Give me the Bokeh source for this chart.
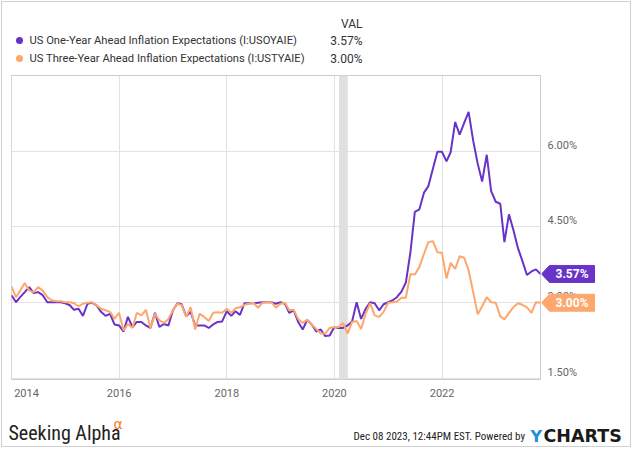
import pandas as pd
from bokeh.plotting import figure
from bokeh.layouts import column, row
from bokeh.models import (Range1d, FixedTicker, DatetimeTickFormatter, BoxAnnotation)
from bokeh.core.properties import value
from bokeh.embed import file_html
from bokeh.resources import INLINE

# ---------------- data (monthly, Dec 2013 .. Oct 2023) ----------------
first_month_end = "2013-12-31"
one_year = [
    3.15, 3.01, 3.11, 3.21, 3.31, 3.19, 3.21, 3.15, 3.01, 3.01, 3.01, 3.01,
    2.99, 2.95, 2.86, 2.88, 2.74, 2.98, 3.00, 2.95, 2.82, 2.74, 2.78, 2.57,
    2.55, 2.43, 2.72, 2.52, 2.62, 2.62, 2.55, 2.50, 2.80, 2.52, 2.58, 2.55,
    2.85, 2.99, 2.97, 2.73, 2.82, 2.55, 2.55, 2.55, 2.50, 2.57, 2.62, 2.63,
    2.83, 2.74, 2.83, 2.76, 2.99, 2.99, 2.99, 3.00, 3.01, 3.01, 3.01, 2.98,
    3.01, 2.98, 2.80, 2.85, 2.62, 2.47, 2.66, 2.57, 2.43, 2.47, 2.34, 2.35,
    2.52, 2.50, 2.50, 2.55, 2.63, 3.01, 2.68, 2.88, 3.01, 2.99, 2.85, 2.97,
    3.01, 3.05, 3.11, 3.22, 3.40, 4.00, 4.80, 4.85, 5.18, 5.31, 5.66, 5.99,
    5.99, 5.80, 5.98, 6.58, 6.33, 6.56, 6.78, 6.21, 5.75, 5.40, 5.93, 5.21,
    5.00, 4.96, 4.20, 4.75, 4.44, 4.08, 3.83, 3.55, 3.62, 3.66, 3.57,
]
three_year = [
    3.32, 3.11, 3.24, 3.39, 3.24, 3.21, 3.31, 3.24, 3.11, 3.05, 3.03, 3.03,
    3.01, 3.01, 2.99, 2.93, 2.98, 3.00, 3.01, 2.95, 2.88, 2.85, 2.82, 2.68,
    2.80, 2.45, 2.58, 2.50, 2.80, 2.75, 2.86, 2.50, 2.78, 2.65, 2.60, 2.68,
    2.85, 2.98, 2.95, 2.72, 2.91, 2.47, 2.78, 2.72, 2.64, 2.80, 2.81, 2.80,
    2.88, 2.80, 2.89, 2.91, 2.96, 2.98, 3.00, 2.90, 3.00, 3.01, 3.01, 2.90,
    2.98, 3.00, 2.85, 2.86, 2.68, 2.60, 2.66, 2.57, 2.48, 2.39, 2.39, 2.50,
    2.52, 2.52, 2.60, 2.39, 2.62, 2.64, 2.48, 2.78, 2.99, 2.75, 2.72, 2.82,
    3.00, 3.01, 3.02, 3.10, 3.10, 3.57, 3.56, 3.71, 3.97, 4.20, 4.22, 4.00,
    3.99, 3.48, 3.79, 3.67, 3.92, 3.89, 3.64, 3.21, 2.77, 2.93, 3.11, 3.01,
    3.00, 2.73, 2.67, 2.80, 2.91, 2.99, 2.96, 2.91, 2.80, 3.01, 3.00,
]
series_names = [
    "US One-Year Ahead Inflation Expectations (I:USOYAIE)",
    "US Three-Year Ahead Inflation Expectations (I:USTYAIE)",
]
value_header = "VAL"
y_ticks = [1.5, 3.0, 4.5, 6.0]
y_tick_labels = ["1.50%", "3.00%", "4.50%", "6.00%"]
x_tick_years = [2014, 2016, 2018, 2020, 2022]
recession = ("2020-02-01", "2020-04-01")
y_min, y_max = 1.48, 7.5
footer_brand = "Seeking Alpha"
footer_alpha = "α"
footer_stamp = "Dec 08 2023, 12:44PM EST.  Powered by"
footer_logo = ("Y", "CHARTS")

dates = pd.date_range(first_month_end, periods=len(one_year), freq=pd.offsets.MonthEnd())

# ---------------- styles / layout ----------------
PURPLE = "#6834c8"
ORANGE = "#fea76d"
GRID = "#e2e2e2"
AXIS_TXT = "#666666"
LEG_TXT = "#333333"
FONT = "Roboto"
NARROW = "'Liberation Sans Narrow', 'Arial Narrow', 'Roboto Condensed', Lato, sans-serif"

TOTAL_W = 635
HEAD_H = 75
FRAME_L, FRAME_W, FRAME_H = 11, 529, 304
AXIS_B = 35
MAIN_W = FRAME_L + FRAME_W + 1
SIDE_W = TOTAL_W - MAIN_W
MAIN_H = FRAME_H + AXIS_B
FOOT_H = 450 - HEAD_H - MAIN_H
px_y = (y_max - y_min) / FRAME_H


def bare(w, h, xr, yr):
    f = figure(width=w, height=h, x_range=xr, y_range=yr, x_axis_location=None,
               y_axis_location=None, output_backend="svg", toolbar_location=None,
               min_border=0, title=None)
    f.grid.visible = False
    f.outline_line_color = None
    f.background_fill_color = "white"
    f.border_fill_color = "white"
    return f


# ---------------- header (legend) ----------------
head = bare(TOTAL_W, HEAD_H, Range1d(0, TOTAL_W), Range1d(HEAD_H, 0))
last_vals = [f"{one_year[-1]:.2f}%", f"{three_year[-1]:.2f}%"]
rows_y = [40, 58]
head.text(x=[362], y=[23], text=[value_header], text_align="right", text_baseline="middle",
          text_font=value(FONT), text_font_size="12px", text_color=LEG_TXT)
head.scatter(x=[19, 19], y=rows_y, size=7, color=[PURPLE, ORANGE], line_color=None)
head.text(x=[29, 29], y=rows_y, text=series_names, text_align="left", text_baseline="middle",
          text_font=value(FONT), text_font_size="11.2px", text_color=LEG_TXT)
head.text(x=[362, 362], y=rows_y, text=last_vals, text_align="right", text_baseline="middle",
          text_font=value(FONT), text_font_size="12px", text_color=LEG_TXT)

# ---------------- main chart ----------------
yr = Range1d(y_min, y_max)
p = figure(width=MAIN_W, height=MAIN_H, x_axis_type="datetime", y_axis_location=None,
           output_backend="svg", toolbar_location=None, title=None,
           min_border_left=FRAME_L, min_border_right=1, min_border_top=0,
           min_border_bottom=AXIS_B, x_range=Range1d(dates[0], dates[-1]), y_range=yr)
p.outline_line_color = "#cccccc"
p.background_fill_color = "white"
p.border_fill_color = "white"

xt = [pd.Timestamp(f"{y}-01-01").value / 1e6 for y in x_tick_years]
p.xaxis.ticker = FixedTicker(ticks=xt)
p.xgrid.ticker = FixedTicker(ticks=xt)
p.ygrid.ticker = FixedTicker(ticks=y_ticks)
p.xgrid.grid_line_color = GRID
p.ygrid.grid_line_color = GRID
p.xaxis.formatter = DatetimeTickFormatter(years="%Y", months="%Y", days="%Y")
# the first label sits at the frame edge: pad it so that it reads inside the chart
p.xaxis.major_label_overrides = {xt[0]: "\u00a0" * 5 + str(x_tick_years[0])}
p.xaxis.axis_line_color = None
p.xaxis.major_tick_line_color = None
p.xaxis.minor_tick_line_color = None
p.xaxis.major_tick_out = 0
p.xaxis.major_tick_in = 0
p.xaxis.major_label_standoff = 7
p.xaxis.major_label_text_font = FONT
p.xaxis.major_label_text_font_size = "11px"
p.xaxis.major_label_text_color = AXIS_TXT

p.add_layout(BoxAnnotation(left=pd.Timestamp(recession[0]), right=pd.Timestamp(recession[1]),
                           fill_color="#e0e0e0", fill_alpha=1.0, line_color=None, level="underlay"))
p.line(dates, one_year, line_color=PURPLE, line_width=2)
p.line(dates, three_year, line_color=ORANGE, line_width=2)

# ---------------- right side: value axis labels and end tags ----------------
side = figure(width=SIDE_W, height=MAIN_H, x_range=Range1d(0, SIDE_W), y_range=yr,
              x_axis_location=None, y_axis_location=None, output_backend="svg",
              toolbar_location=None, title=None, min_border_left=0, min_border_right=0,
              min_border_top=0, min_border_bottom=AXIS_B)
side.grid.visible = False
side.outline_line_color = None
side.background_fill_color = "white"
side.border_fill_color = "white"
side.text(x=[6] * len(y_ticks), y=y_ticks, text=y_tick_labels, text_align="left",
          text_baseline="middle", y_offset=-6, text_font=value(FONT), text_font_size="11px",
          text_color=AXIS_TXT)
hh = 8.5 * px_y
tag_vals = [one_year[-1], three_year[-1]]
tag_cols = [PURPLE, ORANGE]
side.patches(xs=[[0, 8, 53, 53, 8] for _ in tag_vals],
             ys=[[v, v + hh, v + hh, v - hh, v - hh] for v in tag_vals],
             fill_color=tag_cols, line_color=tag_cols, line_width=1)
side.text(x=[30.5, 30.5], y=tag_vals, text=last_vals, text_align="center",
          text_baseline="middle", text_color="white", text_font=value(FONT),
          text_font_style="bold", text_font_size="12px")

# ---------------- footer ----------------
foot = bare(TOTAL_W, FOOT_H, Range1d(0, TOTAL_W), Range1d(FOOT_H, 0))
foot.text(x=[8], y=[18], text=[footer_brand], text_align="left", text_baseline="middle",
          text_font=value(NARROW), text_font_size="20px", text_color="#222222")
foot.text(x=[113], y=[9], text=[footer_alpha], text_align="left", text_baseline="middle",
          text_font=value("DejaVu Sans"), text_font_size="14px", text_color="#f57c1f")
foot.text(x=[527], y=[22], text=[footer_stamp], text_align="right", text_baseline="middle",
          text_font=value(NARROW), text_font_size="11px", text_color="#222222")
foot.text(x=[530], y=[21.5], text=[footer_logo[0]], text_align="left", text_baseline="middle",
          text_font=value("DejaVu Sans"), text_font_style="bold", text_font_size="16px",
          text_color="#1e90dc")
foot.text(x=[543], y=[21.5], text=[footer_logo[1]], text_align="left", text_baseline="middle",
          text_font=value("DejaVu Sans"), text_font_style="bold", text_font_size="17.5px",
          text_color="#1a1a1a")

frame_css = (":host { position: relative; }"
             ":host::after { content: ''; position: absolute; left: 1px; top: 1px;"
             " width: 630px; height: 446px; border: 1px solid #d0d0d0;"
             " box-sizing: border-box; pointer-events: none; z-index: 50; }")
layout = column(head, row(p, side), foot, stylesheets=[frame_css])
open("out.html", "w").write(file_html(layout, INLINE))
